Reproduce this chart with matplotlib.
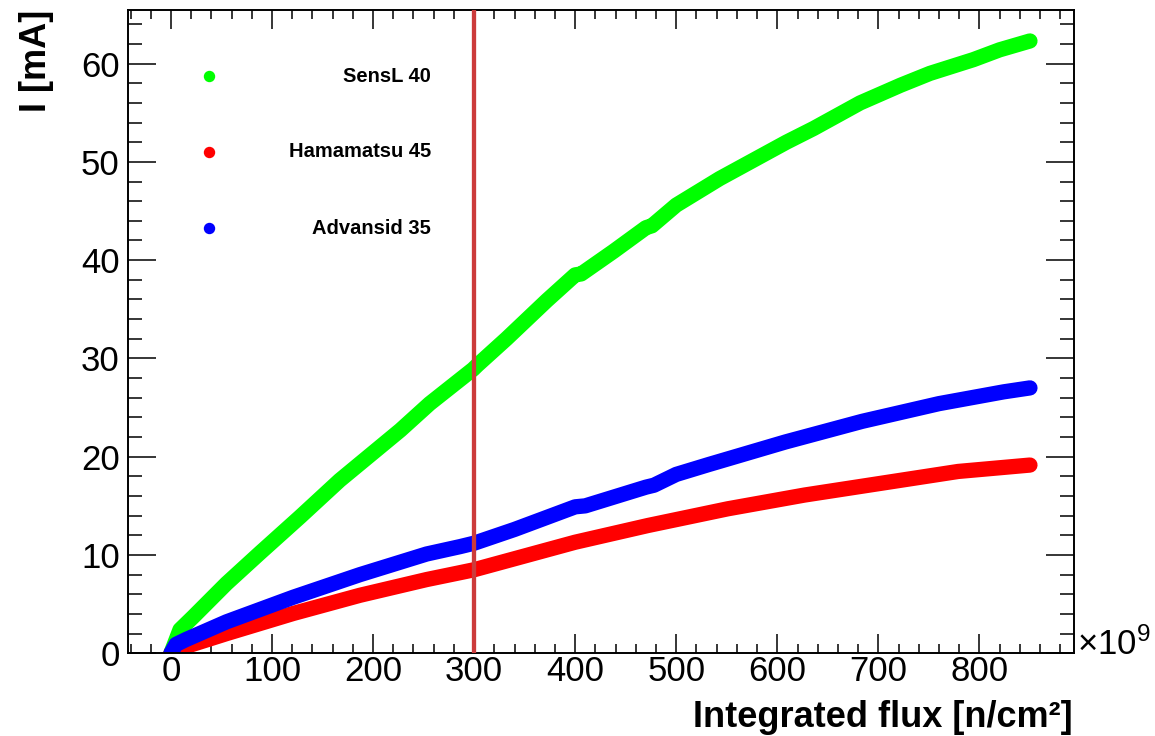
import matplotlib.pyplot as plt
from matplotlib.ticker import MultipleLocator

plt.rcParams['font.family'] = ['Liberation Sans', 'DejaVu Sans']
plt.rcParams['mathtext.fontset'] = 'custom'
plt.rcParams['mathtext.rm'] = 'Liberation Sans'
plt.rcParams['mathtext.it'] = 'Liberation Sans:italic'
plt.rcParams['mathtext.bf'] = 'Liberation Sans:bold'

# flux in units of 1e9 n/cm2, current in mA
sensl_x = [0, 9, 22, 55, 88, 128, 167, 227, 256, 299, 303, 332, 372, 400, 406, 438,
           470, 476, 500, 543, 609, 636, 682, 722, 751, 794, 820, 850]
sensl_y = [0, 2.4, 3.7, 7.1, 10.2, 13.9, 17.6, 22.7, 25.4, 28.9, 29.3, 32.0, 35.9, 38.5,
           38.6, 40.9, 43.3, 43.5, 45.6, 48.3, 52.0, 53.4, 56.0, 57.8, 59.0, 60.4, 61.4, 62.3]

hama_x = [0, 5, 15, 55, 121, 187, 253, 286, 300, 350, 400, 472, 551, 627, 703, 779, 850]
hama_y = [0, 0.4, 0.7, 2.0, 4.05, 5.9, 7.5, 8.2, 8.5, 9.9, 11.3, 13.0, 14.7, 16.1, 17.3,
          18.5, 19.15]

adv_x = [0, 5, 15, 55, 121, 187, 253, 286, 300, 340, 400, 410, 470, 478, 500, 532, 608,
         684, 760, 824, 850]
adv_y = [0, 0.9, 1.4, 3.2, 5.7, 8.0, 10.1, 10.85, 11.2, 12.6, 14.9, 15.0, 16.9, 17.1, 18.2,
         19.2, 21.5, 23.6, 25.4, 26.6, 27.0]

labels = ['SensL 40', 'Hamamatsu 45', 'Advansid 35']
colors = ['#00ff00', '#ff0000', '#0000ff']
cut_flux = 300

fig = plt.figure(figsize=(11.55, 7.36), dpi=100)
ax = fig.add_axes([0.1108, 0.1124, 0.8190, 0.8740])

series = [(sensl_x, sensl_y), (hama_x, hama_y), (adv_x, adv_y)]
for i in [1, 2, 0]:
    xs, ys = series[i]
    ax.plot(xs, ys, color=colors[i], lw=11, solid_capstyle='round',
            solid_joinstyle='round', zorder=2 + i * 0.1)

ax.axvline(cut_flux, color='#cc3b3b', lw=3.1, zorder=4)

ax.set_xlim(-42.5, 893.5)
ax.set_ylim(0, 65.45)
ax.xaxis.set_major_locator(MultipleLocator(100))
ax.xaxis.set_minor_locator(MultipleLocator(20))
ax.yaxis.set_major_locator(MultipleLocator(10))
ax.yaxis.set_minor_locator(MultipleLocator(2))
ax.tick_params(axis='both', which='both', direction='in', top=True, right=True,
               width=1.1, color='black', labelsize=25)
ax.tick_params(axis='x', which='major', length=13.7, pad=1)
ax.tick_params(axis='x', which='minor', length=6.5)
ax.tick_params(axis='y', which='major', length=20, pad=6)
ax.tick_params(axis='y', which='minor', length=10)
for s in ax.spines.values():
    s.set_linewidth(1.4)

# legend, ROOT style: marker on the left, text right-aligned
leg_y = [0.8974, 0.7793, 0.6611]
for lab, col, yy in zip(labels, colors, leg_y):
    ax.plot([0.0856], [yy], 'o', color=col, ms=7.2, transform=ax.transAxes, zorder=5)
    ax.text(0.3203, yy, lab, transform=ax.transAxes, ha='right', va='center',
            fontsize=14.5, fontweight='bold')

fig.text(1073 / 1155, (736 - 727) / 736, 'Integrated flux [n/cm²]', ha='right',
         va='baseline', fontsize=26, fontweight='bold')
fig.text(37 / 1155, (736 - 10) / 736, 'I [mA]', rotation=90, ha='center', va='top',
         fontsize=26, fontweight='bold')
fig.text(1077 / 1155, (736 - 655) / 736, r'$\times10^{9}$', ha='left', va='baseline',
         fontsize=25)

fig.savefig('out.png', dpi=100)
